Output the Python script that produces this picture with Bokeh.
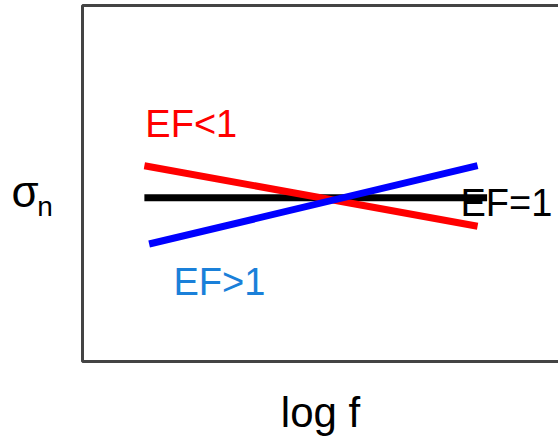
from bokeh.plotting import figure
from bokeh.models import Label, Range1d, BoxAnnotation
from bokeh.embed import file_html
from bokeh.resources import INLINE

# data (arbitrary units: x = log f, y = sigma_n); plot box spans 0..10 on both axes
log_f_black = [1.3, 8.5]
sigma_black = [4.6, 4.6]
log_f_red = [1.3, 8.3]
sigma_red = [5.5, 3.8]
log_f_blue = [1.4, 8.3]
sigma_blue = [3.3, 5.5]

label_text = ["EF<1", "EF>1", "EF=1"]
label_x = [1.32, 1.91, 7.94]
label_y = [6.68, 2.23, 4.45]
label_color = ["#ff0000", "#1a80d9", "#000000"]

x_axis_title = "log f"
y_axis_title = "σ"
y_axis_sub = "n"

FONT = "Liberation Sans"
BORDER = "#444444"

# frame covers the whole canvas; the plot box (0..10 x 0..10) sits inside it
p = figure(width=558, height=442, output_backend="svg", toolbar_location=None,
           x_range=Range1d(-82 / 47.6, 10), y_range=Range1d(-81 / 35.6, 10 + 5 / 35.6),
           x_axis_location=None, y_axis_location=None,
           min_border_left=0, min_border_right=0, min_border_top=0,
           min_border_bottom=0)
p.outline_line_color = None
p.xgrid.visible = False
p.ygrid.visible = False
p.background_fill_color = "white"
p.border_fill_color = "white"

# plot box (right edge falls outside the picture, as in the original)
p.add_layout(BoxAnnotation(left=0, right=10.5, bottom=0, top=10,
                           fill_color=None, fill_alpha=0,
                           line_color=BORDER, line_alpha=1.0, line_width=3))

p.line(log_f_black, sigma_black, line_color="black", line_width=7, line_cap="butt")
p.line(log_f_red, sigma_red, line_color="#ff0000", line_width=7, line_cap="butt")
p.line(log_f_blue, sigma_blue, line_color="#0000ff", line_width=7, line_cap="butt")

for t, x, y, c in zip(label_text, label_x, label_y, label_color):
    p.add_layout(Label(x=x, y=y, text=t, text_color=c, text_font=FONT,
                       text_font_size="38px", text_baseline="alphabetic"))

# axis titles
p.add_layout(Label(x=5.0, y=-1.42, text=x_axis_title, text_color="black",
                   text_font=FONT, text_font_size="42px", text_align="center",
                   text_baseline="alphabetic"))
p.add_layout(Label(x=-1.49, y=4.78, text=y_axis_title, text_color="black",
                   text_font=FONT, text_font_size="44px", text_baseline="alphabetic"))
p.add_layout(Label(x=-0.95, y=4.35, text=y_axis_sub, text_color="black",
                   text_font=FONT, text_font_size="28px", text_baseline="alphabetic"))

open("out.html", "w").write(file_html(p, INLINE))
